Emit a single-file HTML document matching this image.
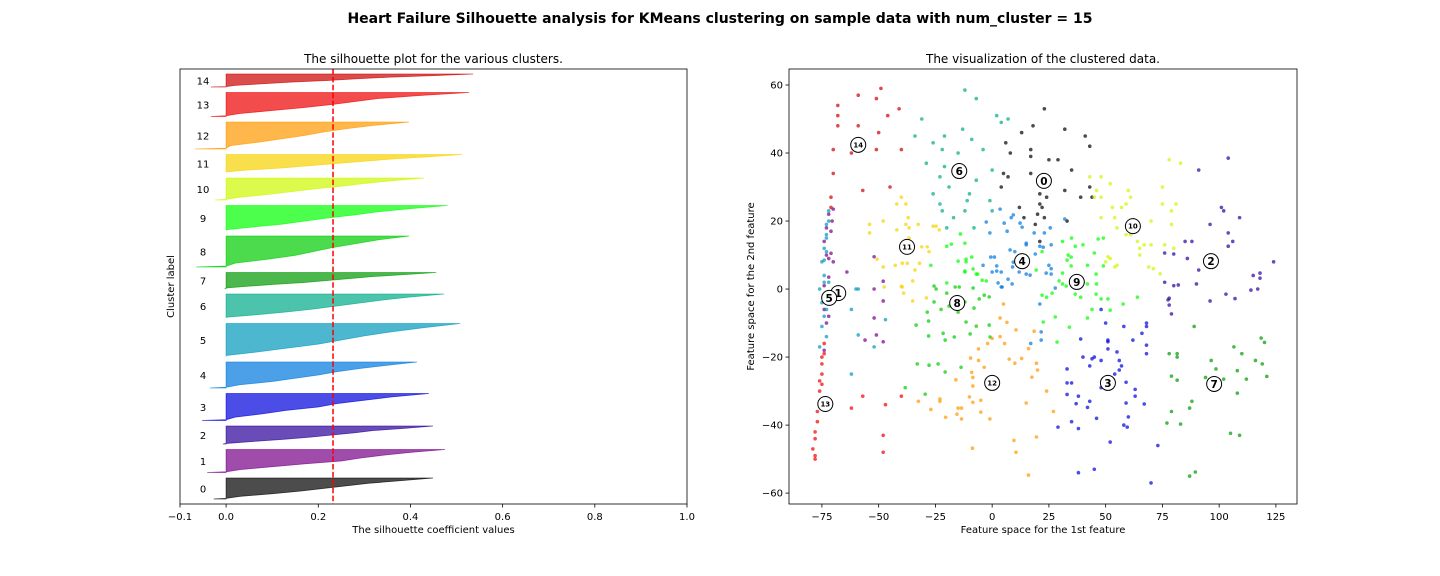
<!DOCTYPE html>
<html><head><meta charset="utf-8"><style>
html,body{margin:0;padding:0;background:#fff;}
svg{display:block;font-family:"DejaVu Sans","Liberation Sans",sans-serif;}
</style></head><body>
<svg id="fig" width="1440" height="576" viewBox="0 0 1440 576" xmlns="http://www.w3.org/2000/svg">
<text x="720" y="23" text-anchor="middle" font-size="14" font-weight="bold">Heart Failure Silhouette analysis for KMeans clustering on sample data with num_cluster = 15</text>
<g id="left"></g>
<g id="right"></g>
</svg>
<script>
const NS="http://www.w3.org/2000/svg";
const clusterIds=[0,1,2,3,4,5,6,7,8,9,10,11,12,13,14];
const clusterCounts=[42,46,36,54,52,66,48,32,62,50,44,36,54,48,26];
const qFrac=[0,0.03,0.125,0.25,0.375,0.5,0.625,0.75,0.875,1];
const silValues=[
[-0.027,0.0,0.03,0.1,0.16,0.21,0.26,0.31,0.38,0.449],
[-0.041,0.0,0.03,0.1,0.17,0.25,0.29,0.34,0.4,0.475],
[-0.007,0.0,0.05,0.12,0.18,0.23,0.28,0.32,0.39,0.449],
[-0.052,0.0,0.02,0.08,0.13,0.2,0.24,0.3,0.36,0.44],
[-0.035,0.0,0.03,0.1,0.15,0.2,0.24,0.29,0.35,0.414],
[0,0.0,0.06,0.13,0.2,0.25,0.3,0.36,0.43,0.508],
[0,0.0,0.06,0.13,0.19,0.24,0.29,0.34,0.4,0.473],
[-0.003,0.0,0.04,0.1,0.17,0.22,0.27,0.32,0.39,0.456],
[-0.065,0.0,0.02,0.09,0.15,0.19,0.23,0.28,0.33,0.397],
[0,0.0,0.05,0.12,0.17,0.22,0.28,0.33,0.4,0.48],
[-0.024,0.0,0.03,0.09,0.14,0.19,0.25,0.3,0.36,0.43],
[0,0.0,0.04,0.12,0.18,0.24,0.3,0.36,0.44,0.512],
[-0.067,0.0,0.01,0.07,0.12,0.17,0.21,0.26,0.32,0.397],
[-0.033,0.0,0.03,0.1,0.17,0.23,0.28,0.33,0.42,0.527],
[-0.033,0.0,0.02,0.08,0.14,0.22,0.28,0.35,0.45,0.536]];
const silAvg=0.232;
const silTicks=[-0.1,0,0.2,0.4,0.6,0.8,1.0];
const silTickLabels=["\u22120.1","0.0","0.2","0.4","0.6","0.8","1.0"];
const colors=["#000000","#770088","#2a0099","#0000db","#0077dd","#0099bb","#00aa88","#009900","#00cc00","#00ff00","#ccf800","#f7d100","#ff9900","#ee0000","#cc0000"];
const centers=[[22.8,31.8],[-67.8,-1.2],[96.4,8.2],[51,-27.6],[13.2,8.2],[-71.8,-2.6],[-14.5,34.7],[97.8,-27.9],[-15.4,-4.1],[37.3,2.1],[62,18.5],[-37.5,12.4],[0,-27.6],[-73.5,-33.8],[-59,42.4]];
const pts0=[[23,53],[18,48],[13,46],[6,43],[8,40],[17,41],[17,39],[25,38],[5,34],[7,33],[17,34],[4,30],[21,28],[24,27],[21,25],[12,24],[22,24],[20,22],[14,21],[19,19],[23,21],[21,14],[32,47],[41,45],[43,42],[29,38],[35,35],[32,29],[39,27],[43,30],[44,27],[33,20]];
const pts1=[[-72,22],[-73,18],[-74,14],[-73,10],[-74,-6],[-73,-10],[-72,-8],[-74,-18],[-52,0],[-48,-3.5],[-52,-8.5],[-56,-15],[-51,-13.5],[-48,-15.5],[-64,5],[-52,9.5],[-48,2.3],[-70,23.5],[-70.5,20],[-71,17],[-71,10.5],[-72,9],[-70,8],[-72,3.5],[-74,1]];
const pts2=[[104,38.5],[91,35],[101,24],[102,23],[109,21],[96,19],[104,16.5],[106,14],[85,14],[88,14],[104,12.6],[76,10.6],[80,10.3],[86,9],[91,5.6],[124,8],[115,4],[118,4.7],[118,3.2],[76,2],[80,1],[82,1.2],[90,1.5],[114,-0.3],[117,0],[77.5,-3.2],[78,-2.7],[78,-4.7],[79,-7.3],[96,-3.5],[103,-1.5],[107,-2.8]];
const pts3=[[48,-6],[50,-10],[58,-11],[68,-10],[68,-11],[66,-13],[62,-15],[39,-14.7],[51,-15],[51,-15.5],[68,-16.5],[51,-17.6],[55,-18.5],[68,-19],[40,-20],[44,-20.5],[45,-20],[48,-21],[56,-21],[43,-22.6],[57,-22.6],[56,-23.8],[54,-25],[33,-23.5],[33,-27.6],[35,-27.6],[59,-27.4],[48,-29],[63,-29.5],[33,-31],[38,-31.5],[63,-31.5],[43,-33],[37,-33.7],[42,-34.8],[59,-33.5],[67,-33.8],[46,-38],[60,-37.6],[35,-39],[58,-40],[59.5,-40.6],[29,-40.6],[38,-41],[52,-45],[73,-46],[38,-54],[45,-53],[70,-57]];
const pts4=[[3.5,23.5],[9.3,21.8],[8.4,21],[-2.6,19.7],[5.3,19.4],[12.3,19.4],[13.2,18.2],[6.6,17],[-1,16.5],[18.5,16.5],[23,16.5],[15,13.5],[15,13],[21,12.6],[7.9,11.5],[10,11],[19,10.3],[-0.6,9.4],[1,9.4],[-4,7],[2,6.8],[9.3,7.9],[9,6.5],[0,5],[2,5.3],[4,5],[11.9,5],[15,4.4],[16.7,4.1],[7,2.9],[2.6,1.8],[8.8,1.5],[4.4,0.6],[25,7],[26,4.4],[32,20.6],[25.6,18],[26,13],[22.5,12.3],[26,6],[23.8,4.7],[27.8,0.3],[4,0.6],[17,-16],[21.6,-15],[21,-4.4],[21.6,-12.6]];
const pts5=[[-72,20],[-73,16],[-74,12],[-75,8],[-74,4],[-76,0],[-75,-4],[-74,-8],[-75,-11],[-73,-14],[-76,-17],[-73,-6],[-72,2],[-73,11],[-62,-6],[-59,-13.5],[-52,-17],[-47,-9],[-60,0],[-62,-25],[-72,23],[-73,19],[-73,15],[-74,8.5],[-74,2],[-59,0]];
const pts6=[[-12,58.5],[-7,56],[-31,50],[-34,45],[-26,43],[-21,45],[-13,47],[-9,44],[-22,41],[-15,40],[-4,41],[-29,37],[-21,36],[-23,33],[-7,32],[0,35],[-19,30],[-26,28],[-10,28],[-11,26],[-23,25],[-1,26],[-22,23],[-12,23],[0,23],[-17,21],[-20,18],[-8,18],[2,51],[4,49],[7,50]];
const pts7=[[89,-11],[118.5,-14.4],[120,-15.7],[106.5,-17],[110,-19],[78,-19],[81.5,-19],[81.5,-20],[96.5,-21],[116,-21],[119,-22],[98.6,-23.5],[108,-24],[121,-25.7],[79,-25.6],[81.5,-26.8],[94,-26],[102,-26.5],[112,-26.5],[108,-30.6],[88,-33],[87,-35],[79,-36],[77,-39.4],[83,-39.7],[105,-42.4],[109,-43],[89.5,-53.8],[87,-55]];
const pts8=[[-25.6,0.9],[-24.7,0],[-20,-1.2],[-25.6,-3.8],[-22.5,-6],[-28.6,-6.8],[-19,-5],[-16.3,0.6],[-14.5,0.6],[-8.4,0.3],[-12,-3.8],[-5.7,-2.9],[-3.5,-1.8],[-1.3,-2.3],[-8,-5.6],[-15,-6.8],[-28,-9.4],[-33.5,-10.6],[-11.5,-9.7],[-7,-10.9],[-1.3,-10.6],[-21.6,-13],[-28,-13.8],[-16.7,-14.1],[-20.7,-15],[-9.7,-13.2],[-0.9,-14.1],[-33,-22],[-27.8,-22.4],[-23.8,-22],[-20.7,-24.4],[-13.7,-23],[-38.3,-29],[-29.5,-30.9]];
const pts9=[[-14,16.2],[-20,12.6],[-18,13.2],[-12,13.5],[-11.5,8.8],[-11.5,8],[-15,8.2],[-9,9.4],[-8.4,5.9],[-12,5.3],[-12,5],[-7,4.4],[-6.4,4.4],[-4.4,2.6],[-2.6,2.4],[-20,1.8],[-27,7],[22,11],[19.4,5.6],[31,14],[35,15],[36.6,12.6],[40,13],[46.7,14.7],[49,15],[33.5,10],[34.8,9.4],[33,8.5],[45,10.6],[42,7],[34.8,6.8],[49,6.8],[31,4.7],[45.8,4.4],[29.5,2.4],[31,1.5],[32.6,0.9],[42,1.5],[46,1.5],[26.4,-1.2],[24,-2.4],[22,-1.8],[36.6,-1.5],[39,-2.4],[45.8,-1.5],[48,-2.9],[51,-2.9],[57.7,-4.4],[64,-2.4],[44,-6],[52,-6.2],[42,-8.5],[27.8,-8.2],[34,-11.2],[22.5,-9.7],[28.6,-15.6]];
const pts10=[[43,33],[48,33],[52,31],[60,29],[46,29],[61,27],[48,27],[45,27],[59,25],[53,24],[57,24],[54,21],[48,21],[55,18],[59,16],[61,16],[64,14],[67,13],[70,13],[65,12],[65,10],[51,9.5],[52,9],[55,7],[54,6.5],[50,8],[69,6.5],[71,6],[74,4.5],[78,38],[83,37],[75,30],[75,25],[81,25],[79,23],[79,19],[70,20],[76,13],[80,12]];
const pts11=[[-40,27],[-42,25],[-38,25],[-37,21],[-48,20],[-54,19],[-54,16.5],[-42,17.4],[-38,19],[-36.6,18],[-32.6,19],[-26,18.5],[-24.7,18.5],[-23.3,17.4],[-36.6,15],[-31,12.4],[-28.6,12.4],[-27.8,11],[-50.7,8.8],[-48,6.5],[-42.7,7],[-39.6,7.6],[-37.4,7.6],[-32,7.6],[-34,5.6],[-35,2.4],[-47.6,0.6],[-39.6,0.6],[-40,0.8],[-39,-1.2],[-35,-3.5],[-29,-2.6]];
const pts12=[[5,-4.4],[3.5,-8.5],[6.5,-9.8],[10.5,-12],[18.5,-12.4],[-2,-16],[0,-14.5],[3.5,-14],[5.5,-16],[16,-17.5],[-6,-17.6],[-9.5,-20.3],[-6,-21],[-3.5,-23],[7.5,-20.6],[10,-21.8],[13,-20.4],[19.5,-21.8],[20,-23.8],[17.5,-25.9],[-9,-24.5],[-8.5,-26],[-16,-26.7],[-8.5,-28.5],[-10,-31.7],[-5,-32.7],[-8.5,-33.3],[-32.5,-33],[-23,-32.3],[-23,-33],[-27,-35.4],[-15,-35],[-13.5,-35],[-15.5,-36.8],[-5,-36.2],[-20.5,-37.7],[-13.5,-38.2],[-1,-38.2],[15,-33.5],[24,-30],[-8.7,-46.8],[9.6,-44.5],[10.5,-48],[19.5,-43.5],[16,-54.7],[27,-36]];
const pts13=[[-74,-19],[-75,-22],[-75,-25],[-75,-28],[-76,-30],[-76,-33],[-77,-36],[-77,-39],[-78,-42],[-78,-44],[-79,-47],[-78,-49],[-78,-50],[-74,-16],[-75,-20],[-76,-27],[-57,-31.5],[-40,-31.5],[-47,-34],[-62,-35],[-48,-43],[-48,-48]];
const pts14=[[-49,59],[-59,57],[-51,56],[-68,54],[-46,51],[-41,53],[-68,51],[-68,48],[-59,48],[-50,46],[-70,41],[-51,41],[-62,40],[-40,41],[-70,34],[-71,27],[-57,29],[-45,30],[-71,24]];
const clusterPoints=[pts0,pts1,pts2,pts3,pts4,pts5,pts6,pts7,pts8,pts9,pts10,pts11,pts12,pts13,pts14];
const scXTicks=[-75,-50,-25,0,25,50,75,100,125];
const scYTicks=[-60,-40,-20,0,20,40,60];

function mk(parent,tag,attrs,text){const e=document.createElementNS(NS,tag);for(const k in attrs)e.setAttribute(k,attrs[k]);if(text!==undefined)e.textContent=text;parent.appendChild(e);return e;}
const L=document.getElementById('left'),R=document.getElementById('right');
// left axes
const LX0=180,LX1=687,AY0=69,AY1=504,silMin=-0.1,silMax=1.0,silYMax=870,gapU=11;
const sx=v=>LX0+(v-silMin)*(LX1-LX0)/(silMax-silMin);
const sy=u=>AY1-u*(AY1-AY0)/silYMax;
let yl=10;
clusterIds.forEach(i=>{
  const n=clusterCounts[i],vals=silValues[i];
  let d=`M${sx(0)},${sy(yl)}`;
  vals.forEach((v,j)=>{d+=` L${sx(v)},${sy(yl+qFrac[j]*n)}`;});
  d+=` L${sx(0)},${sy(yl+n)} Z`;
  const p=mk(L,'path',{d:d,fill:colors[i],'fill-opacity':0.7,stroke:colors[i],'stroke-opacity':0.7,'stroke-width':0.8});
  
  
  const t=mk(L,'text',{x:sx(-0.05),y:sy(yl+n/2)+4,'text-anchor':'middle','font-size':10},String(i));
  
  
  yl+=n+gapU;
});
const avg=mk(L,'line',{x1:sx(silAvg),x2:sx(silAvg),y1:AY0,y2:AY1,stroke:'#ff0000','stroke-width':1.5,'stroke-dasharray':'5.5,2.4'});


const lf=mk(L,'rect',{x:LX0,y:AY0,width:LX1-LX0,height:AY1-AY0,fill:'none',stroke:'#000','stroke-width':0.8});


silTicks.forEach((v,k)=>{
  mk(L,'line',{x1:sx(v),x2:sx(v),y1:AY1,y2:AY1+3.5,stroke:'#000','stroke-width':0.8});
  const t=mk(L,'text',{x:sx(v),y:AY1+16,'text-anchor':'middle','font-size':10},silTickLabels[k]);
  
  
});
let t=mk(L,'text',{x:433.5,y:63,'text-anchor':'middle','font-size':12},'The silhouette plot for the various clusters.');

t=mk(L,'text',{x:433.5,y:533,'text-anchor':'middle','font-size':10},'The silhouette coefficient values');

t=mk(L,'text',{x:0,y:0,'text-anchor':'middle','font-size':10,transform:'translate(174,286.5) rotate(-90)'},'Cluster label');


// right axes
const RX0=789,RX1=1297,xMin=-89.5,xMax=134.3,yMin=-63.2,yMax=64.7;
const px=x=>RX0+(x-xMin)*(RX1-RX0)/(xMax-xMin);
const py=y=>AY1-(y-yMin)*(AY1-AY0)/(yMax-yMin);
clusterIds.forEach(i=>{
  clusterPoints[i].forEach(p=>{
    const c=mk(R,'circle',{cx:px(p[0]),cy:py(p[1]),r:1.8,fill:colors[i],'fill-opacity':0.7});
    
    
  });
});
clusterIds.forEach(i=>{
  const c=centers[i];
  const g=mk(R,'g',{});
  
  
  mk(g,'circle',{cx:px(c[0]),cy:py(c[1]),r:7.5,fill:'#fff',stroke:'#000','stroke-width':1});
  const two=i>=10;
  mk(g,'text',{x:px(c[0]),y:py(c[1])+(two?2.5:4),'text-anchor':'middle','font-size':two?7:10.5,'font-weight':'bold'},String(i));
});
const rf=mk(R,'rect',{x:RX0,y:AY0,width:RX1-RX0,height:AY1-AY0,fill:'none',stroke:'#000','stroke-width':0.8});


scXTicks.forEach(v=>{
  mk(R,'line',{x1:px(v),x2:px(v),y1:AY1,y2:AY1+3.5,stroke:'#000','stroke-width':0.8});
  const t=mk(R,'text',{x:px(v),y:AY1+16,'text-anchor':'middle','font-size':10},String(v).replace('-','\u2212'));
  
  
});
scYTicks.forEach(v=>{
  mk(R,'line',{x1:RX0-3.5,x2:RX0,y1:py(v),y2:py(v),stroke:'#000','stroke-width':0.8});
  const t=mk(R,'text',{x:RX0-6,y:py(v)+3.5,'text-anchor':'end','font-size':10},String(v).replace('-','\u2212'));
  
  
});
t=mk(R,'text',{x:1043,y:63,'text-anchor':'middle','font-size':12},'The visualization of the clustered data.');

t=mk(R,'text',{x:1043,y:533,'text-anchor':'middle','font-size':10},'Feature space for the 1st feature');

t=mk(R,'text',{x:0,y:0,'text-anchor':'middle','font-size':10,transform:'translate(754,286.5) rotate(-90)'},'Feature space for the 2nd feature');

</script>
</body></html>
